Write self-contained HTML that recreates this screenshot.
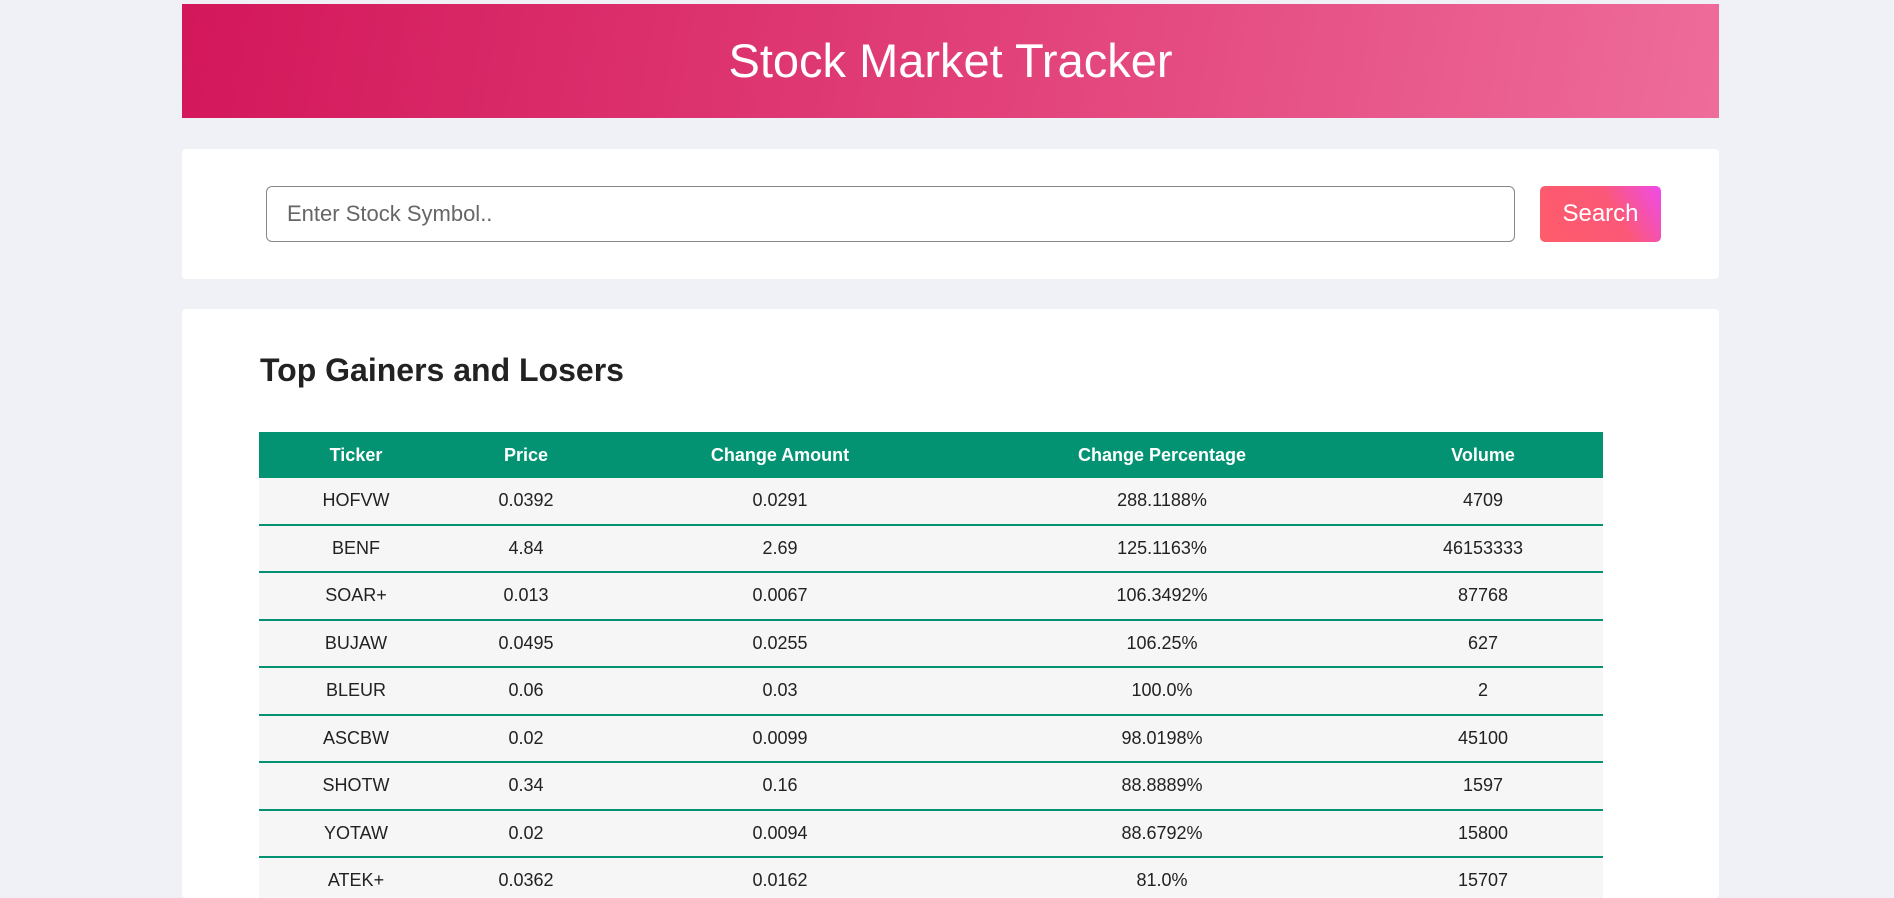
<!DOCTYPE html>
<html><head><meta charset="utf-8"><style>
html,body{margin:0;width:1894px;height:898px;overflow:hidden}
body{background:#f0f1f6;font-family:"Liberation Sans",sans-serif;position:relative}
.hdr{position:absolute;left:182px;top:4px;width:1537px;height:114px;background:linear-gradient(100deg,#d3175a 0%,#e2437a 55%,#ee6c9a 100%);color:#fff;font-size:47px;text-align:center;line-height:114px}
.card{position:absolute;left:182px;width:1537px;background:#fff;border-radius:4px}
.inp{position:absolute;left:84px;top:37px;font-size:22px;color:#666;line-height:53px;padding-left:20px;box-sizing:border-box;width:1249px;height:56px;border:1px solid #888;border-radius:6px}
.btn{position:absolute;left:1358px;top:37px;width:121px;height:56px;border-radius:5px;background:linear-gradient(60deg,#ff5c6a 0%,#fb5878 60%,#ef4bea 100%);color:#fff;font-size:24px;text-align:center;line-height:56px}
h2{position:absolute;left:78px;top:43px;margin:0;font-size:32px;font-weight:bold;color:#222}
table{position:absolute;left:77px;top:123px;border-collapse:collapse;width:1344px;font-size:18px;color:#222}
th{background:#039373;color:#fff;height:46px;font-weight:bold;text-align:center;padding:0}
td{background:#f6f6f6;height:45.5px;text-align:center;border-bottom:2px solid #039373;padding:0}
</style></head><body>
<div class="hdr">Stock Market Tracker</div>
<div class="card" style="top:149px;height:130px">
<div class="inp">Enter Stock Symbol..</div>
<div class="btn">Search</div>
</div>
<div class="card" style="top:309px;height:589px;overflow:hidden">
<h2>Top Gainers and Losers</h2>
<table>
<colgroup><col style="width:194px"><col style="width:146px"><col style="width:362px"><col style="width:402px"><col style="width:240px"></colgroup>
<tr><th>Ticker</th><th>Price</th><th>Change Amount</th><th>Change Percentage</th><th>Volume</th></tr>
<tbody id="tb"></tbody>
</table>
</div>
<script>
const tickers=["HOFVW","BENF","SOAR+","BUJAW","BLEUR","ASCBW","SHOTW","YOTAW","ATEK+"];
const prices=["0.0392","4.84","0.013","0.0495","0.06","0.02","0.34","0.02","0.0362"];
const changes=["0.0291","2.69","0.0067","0.0255","0.03","0.0099","0.16","0.0094","0.0162"];
const pcts=["288.1188%","125.1163%","106.3492%","106.25%","100.0%","98.0198%","88.8889%","88.6792%","81.0%"];
const volumes=["4709","46153333","87768","627","2","45100","1597","15800","15707"];
const tb=document.getElementById('tb');
tickers.forEach((t,i)=>{
const tr=document.createElement('tr');


[t,prices[i],changes[i],pcts[i],volumes[i]].forEach(v=>{const td=document.createElement('td');td.textContent=v;tr.appendChild(td);});
tb.appendChild(tr);
});
</script>
</body></html>
